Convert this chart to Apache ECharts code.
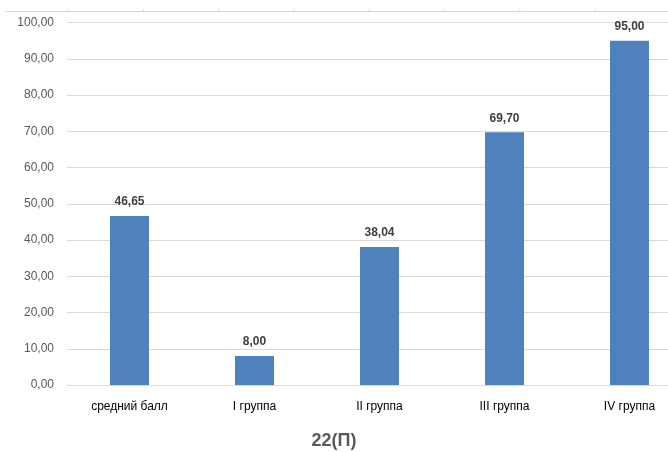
<!DOCTYPE html>
<html><head><meta charset="utf-8">
<script src="https://cdn.jsdelivr.net/npm/echarts@6/dist/echarts.min.js"></script>
<style>html,body{margin:0;padding:0;background:#fff}#c{width:668px;height:452px}</style>
</head><body><div id="c"></div>
<script>
const categories = ['средний балл', 'I группа', 'II группа', 'III группа', 'IV группа'];
const values = [46.65, 8.00, 38.04, 69.70, 95.00];
const title = '22(П)';
const fmt = v => v.toFixed(2).replace('.', ',');
const FONT = 'Liberation Sans';
const chart = echarts.init(document.getElementById('c'));
const topTicks = [];
for (let x = 68; x < 668; x += 75.3) topTicks.push({type:'line', shape:{x1:x,y1:9,x2:x,y2:11}, style:{stroke:'#d9d9d9',lineWidth:1}, silent:true});
chart.setOption({
  animation:false,
  textStyle:{fontFamily:FONT},
  title:{text:title, left:'center', top:427, textStyle:{fontFamily:FONT, fontSize:18, fontWeight:'bold', color:'#595959'}},
  graphic:[{type:'line', shape:{x1:5,y1:11.5,x2:668,y2:11.5}, style:{stroke:'#d9d9d9',lineWidth:1}, silent:true}].concat(topTicks),
  grid:{left:67, top:22.5, width:625, height:362.5, outerBoundsMode:'none'},
  xAxis:{type:'category', data:categories, axisTick:{show:false},
    axisLine:{show:true, lineStyle:{color:'#d9d9d9', width:1}},
    axisLabel:{color:'#000', fontSize:12, margin:16, fontFamily:FONT}},
  yAxis:{type:'value', min:0, max:100, interval:10,
    axisLine:{show:false}, axisTick:{show:false},
    splitLine:{lineStyle:{color:'#d9d9d9', width:1}},
    axisLabel:{formatter:v=>fmt(v), color:'#595959', fontSize:12, margin:13, fontFamily:FONT}},
  series:[{type:'bar', data:values, barWidth:39, itemStyle:{color:'#4f81bd'},
    label:{show:true, position:'top', distance:8, formatter:p=>fmt(p.value), color:'#404040', fontSize:12, fontWeight:'bold', fontFamily:FONT}}]
});
</script></body></html>
